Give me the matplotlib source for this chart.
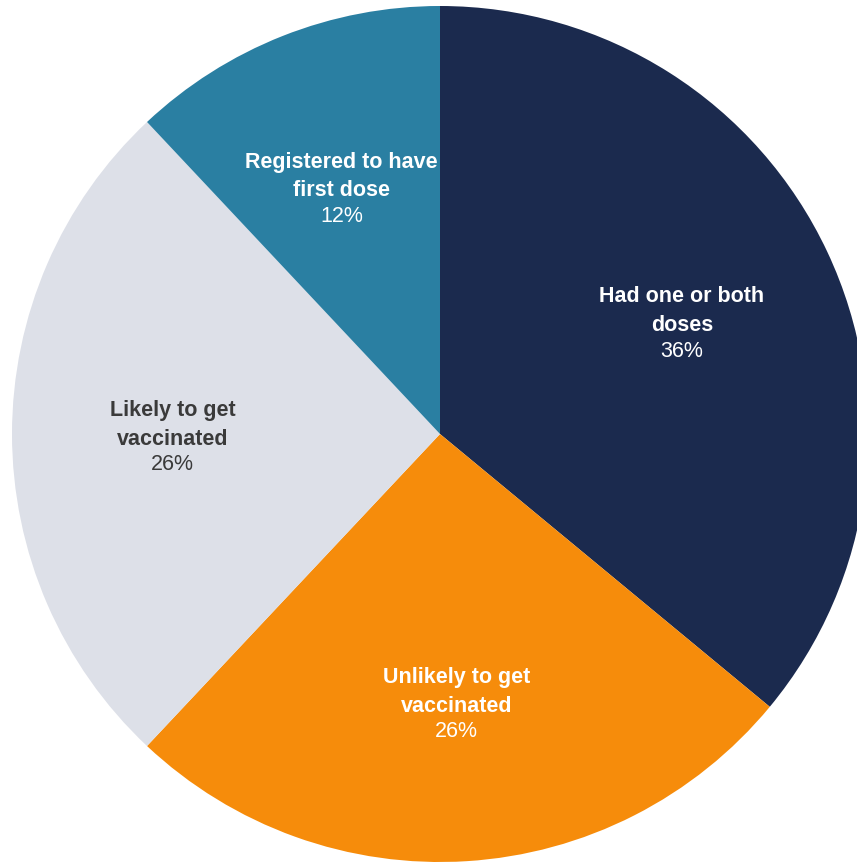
import numpy as np
import matplotlib
from matplotlib import pyplot as plt
matplotlib.rcParams['font.family'] = ['Liberation Sans', 'DejaVu Sans']

labels = ['Had one or both\ndoses', 'Unlikely to get\nvaccinated',
          'Likely to get\nvaccinated', 'Registered to have\nfirst dose']
shares = [36, 26, 26, 12]
colors = ['#1b2a4e', '#f68c0b', '#dde0e8', '#2a7fa2']
text_colors = ['white', 'white', '#3a3a3a', 'white']

fig = plt.figure(figsize=(8.57, 8.66), dpi=100)
ax = fig.add_axes([0, 0, 1, 1])

cx, cy, r = 440, 432, 428
wedges, _ = ax.pie(shares, colors=colors, startangle=90, counterclock=False,
                   center=(cx, cy), radius=r, frame=True,
                   wedgeprops=dict(linewidth=0))
ax.set_xlim(0, 857)
ax.set_ylim(0, 866)
ax.set_aspect('equal')
ax.axis('off')

# labels sit at ~62% of the radius along each wedge's middle angle
for w, lab, val, tc in zip(wedges, labels, shares, text_colors):
    ang = np.deg2rad((w.theta1 + w.theta2) / 2)
    x = cx + 0.625 * r * np.cos(ang)
    y = cy + 0.625 * r * np.sin(ang)
    ax.text(x, y + 9, lab, ha='center', va='center', color=tc,
            fontsize=15.5, fontweight='bold', linespacing=1.47)
    ax.text(x, y - 31, f'{val}%', ha='center', va='center', color=tc,
            fontsize=15.5)

fig.savefig('out.png', dpi=100)
